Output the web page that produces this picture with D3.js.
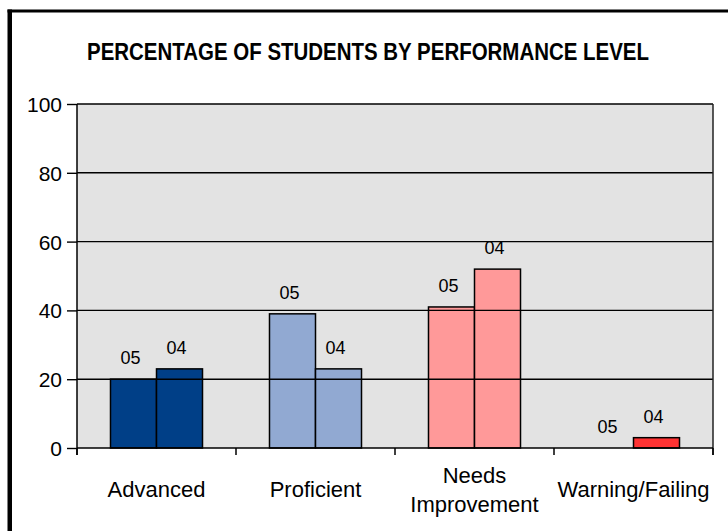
<!DOCTYPE html>
<html>
<head>
<meta charset="utf-8">
<script src="https://cdn.jsdelivr.net/npm/d3@7"></script>
<style>
html,body{margin:0;padding:0;background:#fff;}
svg{display:block;}
text{font-family:"Liberation Sans",Arial,sans-serif;fill:#000;}
</style>
</head>
<body>
<svg id="chart" width="728" height="531"></svg>
<script>
const categories = ["Advanced", "Proficient", "Needs\nImprovement", "Warning/Failing"];
const seriesNames = ["05", "04"];
const values05 = [20, 39, 41, 0];
const values04 = [23, 23, 52, 3];
const barColors = ["#003F87", "#91A9D2", "#FF9999", "#FF3333"];
const yTicks = [0, 20, 40, 60, 80, 100];
const title = "PERCENTAGE OF STUDENTS BY PERFORMANCE LEVEL";

(function(){
const svg = d3.select("#chart");
const pLeft = 77, pRight = 713, pTop = 104, pBottom = 448;

const x0 = d3.scaleBand().domain(categories).range([pLeft, pRight]).padding(0);
const x1 = d3.scaleBand().domain(seriesNames).range([0, x0.bandwidth()]).paddingInner(0).paddingOuter(0.728);
const y = d3.scaleLinear().domain([0, 100]).range([pBottom, pTop]);

const data = categories.map((c, i) => ({
  cat: c, color: barColors[i],
  bars: [{s: "05", v: values05[i]}, {s: "04", v: values04[i]}]
}));

// frame
svg.append("line").attr("x1", 9.75).attr("x2", 9.75).attr("y1", 9.5).attr("y2", 540).attr("stroke", "#000").attr("stroke-width", 4.5);
svg.append("line").attr("x1", 7.5).attr("x2", 740).attr("y1", 11).attr("y2", 11).attr("stroke", "#000").attr("stroke-width", 3);

// title
svg.append("text").attr("x", 368).attr("y", 60).attr("text-anchor", "middle")
  .attr("font-size", 23).attr("font-weight", "bold")
  .attr("textLength", 562).attr("lengthAdjust", "spacingAndGlyphs")
  .text(title);

// plot background
svg.append("rect").attr("x", pLeft).attr("y", pTop).attr("width", pRight - pLeft).attr("height", pBottom - pTop).attr("fill", "#E3E3E3");

// data labels (drawn under gridlines)
const groups = svg.append("g").selectAll("g").data(data).join("g")
  .attr("transform", d => `translate(${x0(d.cat)},0)`);
groups.selectAll("text.lbl").data(d => d.bars).join("text").attr("class", "lbl")
  .attr("x", d => x1(d.s) + x1.bandwidth() / 2 - 3)
  .attr("y", d => y(d.v) - 15)
  .attr("text-anchor", "middle").attr("font-size", 18)
  .text(d => d.s);

// gridlines
svg.append("g").selectAll("line").data(yTicks.filter(t => t > 0)).join("line")
  .attr("x1", pLeft).attr("x2", pRight).attr("y1", d => y(d)).attr("y2", d => y(d))
  .attr("stroke", "#000").attr("stroke-width", 1.4);

// bars
groups.selectAll("rect").data(d => d.bars.map(b => ({...b, color: d.color}))).join("rect")
  .attr("x", d => x1(d.s))
  .attr("y", d => y(d.v))
  .attr("width", x1.bandwidth())
  .attr("height", d => y(0) - y(d.v))
  .attr("fill", d => d.color)
  .attr("stroke", d => d.v > 0 ? "#000" : "none").attr("stroke-width", 1.5);

// right border of plot
svg.append("line").attr("x1", pRight).attr("x2", pRight).attr("y1", pTop).attr("y2", pBottom + 7).attr("stroke", "#222").attr("stroke-width", 1.5);

// y axis
const yAxis = svg.append("g").attr("transform", `translate(${pLeft},0)`)
  .call(d3.axisLeft(y).tickValues(yTicks).tickSize(10).tickPadding(5));
yAxis.select(".domain").remove();
yAxis.selectAll(".tick line").attr("stroke", "#000").attr("stroke-width", 1.4);
yAxis.selectAll(".tick text").attr("font-family", '"Liberation Sans",Arial,sans-serif').attr("font-size", 21).attr("fill", "#000").attr("dy", "0.36em");
svg.append("line").attr("x1", pLeft).attr("x2", pLeft).attr("y1", pTop).attr("y2", pBottom + 7).attr("stroke", "#000").attr("stroke-width", 1.5);

// x axis
svg.append("line").attr("x1", pLeft).attr("x2", pRight).attr("y1", pBottom).attr("y2", pBottom).attr("stroke", "#000").attr("stroke-width", 1.5);
const bounds = categories.map(c => x0(c)).concat([pRight]);
svg.append("g").selectAll("line").data(bounds).join("line")
  .attr("x1", d => d).attr("x2", d => d).attr("y1", pBottom).attr("y2", pBottom + 7)
  .attr("stroke", "#000").attr("stroke-width", 1.5);

// category labels
const lineH = 29;
svg.append("g").selectAll("text").data(categories).join("text")
  .attr("text-anchor", "middle").attr("font-size", 22)
  .each(function(d) {
    const lines = d.split("\n");
    const t = d3.select(this);
    const y0 = 497 - (lines.length - 1) * lineH / 2;
    lines.forEach((ln, i) => {
      t.append("tspan").attr("x", x0(d) + x0.bandwidth() / 2).attr("y", y0 + i * lineH).text(ln);
    });
  });
})();
</script>
</body>
</html>
